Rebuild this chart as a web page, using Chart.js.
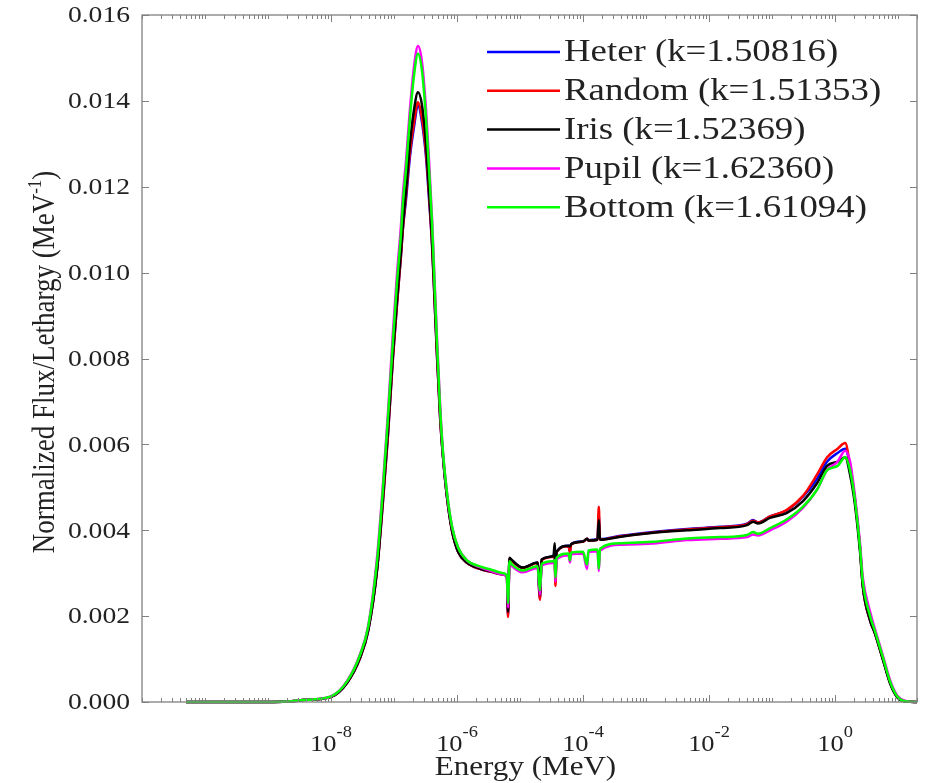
<!DOCTYPE html>
<html>
<head>
<meta charset="utf-8">
<style>
  html, body { margin: 0; padding: 0; background: #fff; }
  #wrap { width: 927px; height: 783px; }
</style>
<script src="https://cdn.jsdelivr.net/npm/chart.js@4/dist/chart.umd.min.js"></script>
</head>
<body>
<div id="wrap"><canvas id="c" width="927" height="783"></canvas></div>
<script>
// Neutron spectra (flux per lethargy) for five fuel arrangements.
// Energy grid in MeV, shared by every series.
const ENERGY = [
  5e-11, 1e-10, 1e-9, 2e-9, 4e-9, 1e-8, 1.8e-8, 2.9e-8, 3.9e-8, 5.4e-8,
  6.7e-8, 8e-8, 9.6e-8, 1.12e-7, 1.29e-7, 1.38e-7, 1.55e-7, 1.79e-7, 2.08e-7, 2.4e-7,
  2.78e-7, 3.22e-7, 3.6e-7, 4e-7, 4.3e-7, 4.8e-7, 5.4e-7, 6e-7, 6.9e-7, 8.3e-7,
  1.04e-6, 1.44e-6, 2.3e-6, 3.5e-6, 5.4e-6, 6.2e-6, 6.45e-6, 6.8e-6, 7.5e-6, 1.1e-5,
  1.9e-5, 2.07e-5, 2.2e-5, 3.4e-5, 3.55e-5, 3.65e-5, 3.8e-5, 5.9e-5, 6.2e-5, 6.5e-5,
  1.0e-4, 1.16e-4, 1.22e-4, 1.7e-4, 1.78e-4, 1.86e-4, 4e-4, 1.3e-3, 4.5e-3, 1.5e-2,
  4e-2, 5e-2, 6e-2, 9.3e-2, 0.17, 0.31, 0.52, 0.75, 1.1, 1.45,
  1.73, 2.07, 2.49, 2.76, 3.6, 4.3, 5.8, 7.5, 9.6, 13.7,
  20,
];

const HETER = [
  0, 0, 0, 0.00001, 0.00005, 0.00012, 0.00045, 0.00103, 0.00166, 0.0031,
  0.0047, 0.0062, 0.0080, 0.0093, 0.0104, 0.0110, 0.0117, 0.0127, 0.0134, 0.0139,
  0.0135, 0.0127, 0.0117, 0.0107, 0.0097, 0.0081, 0.0066, 0.0057, 0.0048, 0.0040,
  0.0035, 0.00324, 0.0031, 0.00303, 0.00297, 0.0029, 0.0020, 0.00335, 0.00329, 0.00313,
  0.00325, 0.0024, 0.00331, 0.00339, 0.0035, 0.0028, 0.0035, 0.00364, 0.0035, 0.00368,
  0.00374, 0.0038, 0.00377, 0.00379, 0.0044, 0.00379, 0.00387, 0.00396, 0.00403, 0.00408,
  0.00415, 0.00424, 0.00418, 0.00432, 0.00446, 0.00478, 0.0052, 0.0056, 0.0058, 0.0059,
  0.0055, 0.0047, 0.0036, 0.0027, 0.0019, 0.0016, 0.00098, 0.00044, 0.00013, 0.00001,
  0,
];

const RANDOM = [
  0, 0, 0, 0.00001, 0.00005, 0.00012, 0.00045, 0.00103, 0.00167, 0.0031,
  0.0047, 0.0062, 0.0080, 0.0093, 0.0104, 0.0110, 0.0118, 0.0128, 0.0135, 0.01397,
  0.0136, 0.0128, 0.0118, 0.0107, 0.0097, 0.0081, 0.0066, 0.0057, 0.0048, 0.0040,
  0.0035, 0.00324, 0.0031, 0.00303, 0.00297, 0.0029, 0.00198, 0.00334, 0.00328, 0.00312,
  0.00324, 0.00238, 0.0033, 0.00338, 0.00345, 0.0027, 0.00349, 0.00363, 0.0035, 0.00367,
  0.00373, 0.0038, 0.00376, 0.00378, 0.00455, 0.00378, 0.00386, 0.00395, 0.00402, 0.00407,
  0.00414, 0.00422, 0.00418, 0.00432, 0.00447, 0.0048, 0.0053, 0.0057, 0.0059, 0.00603,
  0.0055, 0.0047, 0.0036, 0.0027, 0.0019, 0.0016, 0.00098, 0.00044, 0.00013, 0.00001,
  0,
];

const IRIS = [
  0, 0, 0, 0.00001, 0.00005, 0.00012, 0.00045, 0.00104, 0.00168, 0.0031,
  0.0048, 0.0063, 0.0081, 0.0094, 0.0105, 0.0111, 0.0119, 0.0130, 0.0138, 0.0142,
  0.0139, 0.0130, 0.0119, 0.0108, 0.0098, 0.0082, 0.0067, 0.0057, 0.0048, 0.0040,
  0.0035, 0.00325, 0.00311, 0.00304, 0.00298, 0.00292, 0.0021, 0.00336, 0.0033, 0.00313,
  0.00325, 0.0025, 0.00332, 0.0034, 0.0037, 0.0029, 0.0035, 0.00364, 0.00362, 0.00368,
  0.00374, 0.0038, 0.00376, 0.00378, 0.00424, 0.00378, 0.00385, 0.00394, 0.0040, 0.00405,
  0.00412, 0.0042, 0.00416, 0.00429, 0.0044, 0.00468, 0.0051, 0.0055, 0.0056, 0.0057,
  0.0053, 0.0046, 0.0035, 0.0027, 0.0019, 0.0016, 0.00097, 0.00043, 0.00012, 0.00001,
  0,
];

const PUPIL = [
  0, 0, 0, 0.00001, 0.00005, 0.00013, 0.00049, 0.00112, 0.00178, 0.0034,
  0.0051, 0.0067, 0.0086, 0.0100, 0.0111, 0.0118, 0.0126, 0.0138, 0.0148, 0.01528,
  0.0149, 0.0138, 0.0126, 0.0113, 0.0102, 0.0085, 0.0069, 0.0058, 0.0049, 0.0041,
  0.0036, 0.0033, 0.00314, 0.00305, 0.00297, 0.0029, 0.0022, 0.00322, 0.00316, 0.00302,
  0.00312, 0.0025, 0.00318, 0.00324, 0.00326, 0.0028, 0.00332, 0.00342, 0.00325, 0.00344,
  0.00346, 0.0031, 0.00349, 0.00351, 0.00305, 0.00353, 0.00366, 0.00369, 0.00377, 0.0038,
  0.00384, 0.0039, 0.00388, 0.0040, 0.0042, 0.00452, 0.00495, 0.0054, 0.0056, 0.00585,
  0.0056, 0.0048, 0.0037, 0.0029, 0.0021, 0.0017, 0.00106, 0.0005, 0.00016, 0.00002,
  0,
];

const BOTTOM = [
  0, 0, 0, 0.00001, 0.00005, 0.00013, 0.00048, 0.0011, 0.00176, 0.0033,
  0.0050, 0.0066, 0.0084, 0.0098, 0.0109, 0.0116, 0.0124, 0.0136, 0.0146, 0.0151,
  0.0147, 0.0136, 0.0124, 0.0112, 0.0101, 0.0084, 0.0068, 0.0058, 0.0049, 0.0041,
  0.0036, 0.0033, 0.00316, 0.00308, 0.0030, 0.00293, 0.0023, 0.00328, 0.0032, 0.00306,
  0.00316, 0.0026, 0.00322, 0.00328, 0.0033, 0.0029, 0.00336, 0.00346, 0.0033, 0.00348,
  0.0035, 0.0032, 0.00353, 0.00355, 0.0031, 0.00357, 0.0037, 0.00373, 0.00381, 0.00384,
  0.00389, 0.00396, 0.00392, 0.00405, 0.00425, 0.00455, 0.00495, 0.0054, 0.0055, 0.0057,
  0.0054, 0.0047, 0.0036, 0.0028, 0.0020, 0.00165, 0.00102, 0.00047, 0.00014, 0.00001,
  0,
];

const LABELS = [
  "Heter (k=1.50816)",
  "Random (k=1.51353)",
  "Iris (k=1.52369)",
  "Pupil (k=1.62360)",
  "Bottom (k=1.61094)",
];
const SERIES = [HETER, RANDOM, IRIS, PUPIL, BOTTOM];
const COLORS = ["#0000ff", "#ff0000", "#000000", "#ff00ff", "#00ff00"];

// Axis ranges and labelled decades (10^-8 ... 10^0).
const X_MIN = 1e-11;
const X_MAX = 20;
const X_LABEL_EXP = [-8, -6, -4, -2, 0];
const Y_MIN = 0;
const Y_MAX = 0.016;
const Y_STEP = 0.002;

const FONT = "'Liberation Serif', 'Times New Roman', serif";
const INK = "#222222";
const AXIS = "#808080";
const SX = 1.15; // the figure's text is stretched horizontally

function textWidth(ctx, s, font) {
  ctx.font = font;
  return ctx.measureText(s).width * SX;
}

function stretchText(ctx, s, x, y, font, align) {
  ctx.save();
  ctx.translate(x, y);
  ctx.scale(SX, 1);
  ctx.font = font;
  ctx.textAlign = align || "left";
  ctx.fillText(s, 0, 0);
  ctx.restore();
}

// MATLAB-like box: inward ticks on all four sides, labels and titles.
const framePlugin = {
  id: "frame",
  afterDatasetsDraw(chart) {
    const { ctx, chartArea: a, scales } = chart;
    const x = scales.x, y = scales.y;
    ctx.save();
    ctx.strokeStyle = AXIS;
    ctx.lineWidth = 1.3;
    ctx.strokeRect(a.left, a.top, a.right - a.left, a.bottom - a.top);

    ctx.beginPath();
    ctx.lineWidth = 1;
    y.ticks.forEach((t) => {
      const py = Math.round(y.getPixelForValue(t.value)) + 0.5;
      ctx.moveTo(a.left, py); ctx.lineTo(a.left + 7, py);
      ctx.moveTo(a.right, py); ctx.lineTo(a.right - 7, py);
    });
    x.ticks.forEach((t) => {
      const px = Math.round(x.getPixelForValue(t.value)) + 0.5;
      const len = t.major ? 7 : 4;
      ctx.moveTo(px, a.bottom); ctx.lineTo(px, a.bottom - len);
      ctx.moveTo(px, a.top); ctx.lineTo(px, a.top + len);
    });
    ctx.stroke();

    ctx.fillStyle = INK;
    ctx.textBaseline = "middle";
    const yFont = "24px " + FONT;
    y.ticks.forEach((t) => {
      const py = y.getPixelForValue(t.value);
      stretchText(ctx, t.value.toFixed(3), a.left - 12, py + 1, yFont, "right");
    });

    ctx.textBaseline = "alphabetic";
    const baseFont = "23px " + FONT;
    const supFont = "16px " + FONT;
    X_LABEL_EXP.forEach((n) => {
      const px = x.getPixelForValue(Math.pow(10, n));
      const exp = String(n);
      const w1 = textWidth(ctx, "10", baseFont);
      const w2 = textWidth(ctx, exp, supFont);
      const left = px - (w1 + w2) / 2;
      stretchText(ctx, "10", left, 751, baseFont, "left");
      stretchText(ctx, exp, left + w1, 737, supFont, "left");
    });

    // x title
    stretchText(ctx, "Energy (MeV)", (a.left + a.right) / 2 - 4, 775, "27px " + FONT, "center");

    // y title, rotated, with superscript -1
    const tFont = "27px " + FONT;
    const tSup = "17px " + FONT;
    const main = "Normalized Flux/Lethargy (MeV";
    ctx.save();
    ctx.translate(46, 362);
    ctx.scale(SX, 1);
    ctx.rotate(-Math.PI / 2);
    ctx.font = tFont;
    const wMain = ctx.measureText(main).width;
    const wClose = ctx.measureText(")").width;
    ctx.font = tSup;
    const wSup = ctx.measureText("-1").width;
    let cx = -(wMain + wSup + wClose) / 2;
    ctx.textBaseline = "middle";
    ctx.textAlign = "left";
    ctx.font = tFont;
    ctx.fillText(main, cx, 0);
    cx += wMain;
    ctx.font = tSup;
    ctx.fillText("-1", cx, -9);
    cx += wSup;
    ctx.font = tFont;
    ctx.fillText(")", cx, 0);
    ctx.restore();

    // legend, drawn from the datasets
    const lFont = "32px " + FONT;
    chart.data.datasets.forEach((ds, i) => {
      const ly = 52 + i * 38.8;
      ctx.strokeStyle = ds.borderColor;
      ctx.lineWidth = 2.5;
      ctx.beginPath();
      ctx.moveTo(487, ly);
      ctx.lineTo(560, ly);
      ctx.stroke();
      ctx.fillStyle = INK;
      ctx.textBaseline = "middle";
      stretchText(ctx, ds.label, 564, ly + 1, lFont, "left");
    });
    ctx.restore();
  },
};

new Chart(document.getElementById("c"), {
  type: "line",
  data: {
    datasets: SERIES.map((vals, i) => ({
      label: LABELS[i],
      data: ENERGY.map((e, j) => ({ x: e, y: vals[j] })),
      borderColor: COLORS[i],
      backgroundColor: COLORS[i],
      borderWidth: 2.5,
      pointRadius: 0,
      cubicInterpolationMode: "monotone",
      clip: false,
      order: SERIES.length - i, // last series (Bottom) drawn on top
    })),
  },
  options: {
    responsive: false,
    animation: false,
    events: [],
    layout: { padding: { left: 0, right: 10, top: 15, bottom: 0 } },
    plugins: { legend: { display: false }, tooltip: { enabled: false } },
    scales: {
      x: {
        type: "logarithmic",
        min: X_MIN,
        max: X_MAX,
        grid: { display: false },
        border: { display: false },
        ticks: { display: false },
        afterBuildTicks(scale) {
          const ticks = [];
          for (let n = -11; n <= 1; n++) {
            for (let k = 1; k <= 9; k++) {
              const v = k * Math.pow(10, n);
              if (v < X_MIN * 0.999 || v > X_MAX * 1.001) continue;
              ticks.push({ value: v, major: k === 1 && X_LABEL_EXP.includes(n) });
            }
          }
          scale.ticks = ticks;
        },
        afterFit(scale) { scale.height = 81; },
      },
      y: {
        min: Y_MIN,
        max: Y_MAX,
        grid: { display: false },
        border: { display: false },
        ticks: { display: false, stepSize: Y_STEP },
        afterFit(scale) { scale.width = 142; },
      },
    },
  },
  plugins: [framePlugin],
});
</script>
</body>
</html>
